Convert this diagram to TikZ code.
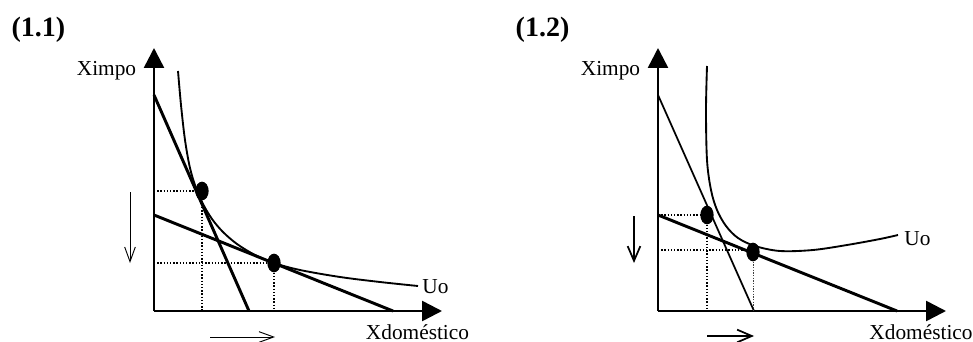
\documentclass[tikz,border=0pt]{standalone}
\usepackage{fontspec}
\setmainfont{Liberation Serif}
\usetikzlibrary{arrows.meta,shapes.geometric}
\tikzset{
  axisline/.style={line width=1.9pt, -{Triangle[width=15pt,length=15pt]}},
  budgetthick/.style={line width=2.2pt},
  budgetthin/.style={line width=1.3pt},
  indiff/.style={line width=1.4pt},
  guide/.style={line width=1pt, dash pattern=on 1.1pt off 1.3pt},
  guidelight/.style={line width=0.6pt, dash pattern=on 1pt off 1pt, black!75},
  optpt/.style={ellipse, fill=black, inner sep=0pt, minimum width=10pt, minimum height=14pt},
  shiftthin/.style={line width=0.7pt, -{Straight Barb[length=11pt,width=8pt]}},
  shiftthick/.style={line width=1.3pt, -{Straight Barb[length=11pt,width=9.5pt]}},
  lbl/.style={font=\fontsize{16}{18}\selectfont, inner sep=0pt, anchor=base},
  paneltitle/.style={font=\bfseries\fontsize{21}{24}\selectfont, inner sep=0pt},
}
\begin{document}
\begin{tikzpicture}[x=0.75pt,y=-0.75pt]
\useasboundingbox (0,0) rectangle (973,342);

% ---------------- Panel 1.1 ----------------
\node[paneltitle] (t1) at (38.5,29.5) {(1.1)};
\coordinate (O1) at (154,311);
\coordinate (Y1) at (154,48);
\coordinate (X1) at (442,311);
\draw[axisline] (O1) -- (Y1);
\draw[axisline] (O1) -- (X1);
\node[lbl] (ylab1) at (106.5,76) {Ximpo};
\node[lbl] (xlab1) at (417.5,339) {Xdoméstico};
\node[lbl] (u1) at (435.5,293) {Uo};

\coordinate (s1a) at (154,95);
\coordinate (s1b) at (249,311);
\coordinate (f1a) at (154,215);
\coordinate (f1b) at (393,311);
\draw[budgetthick] (s1a) -- (s1b);
\draw[budgetthick] (f1a) -- (f1b);

\draw[indiff] plot[smooth, tension=0.55] coordinates {
  (178,71) (181,105) (185,140) (190,168) (196,188) (203,204) (212,219)
  (223,232) (237,244) (255,255) (274,263) (300,270) (340,277) (380,282) (418,286)};

\node[optpt] (d11) at (202,191) {};
\node[optpt] (d12) at (274,263) {};
\draw[guide] (d11.center -| O1) -- (d11.west);
\draw[guide] (d11.south) -- (d11.center |- O1);
\draw[guide] (d12.center -| O1) -- (d12.west);
\draw[guide] (d12.south) -- (d12.center |- O1);

\coordinate (a1s) at (130,192);
\coordinate (a1e) at (130,263);
\draw[shiftthin] (a1s) -- (a1e);
\coordinate (b1s) at (210,337);
\coordinate (b1e) at (275,337);
\draw[shiftthin] (b1s) -- (b1e);

% ---------------- Panel 1.2 ----------------
\node[paneltitle] (t2) at (542.5,29.5) {(1.2)};
\coordinate (O2) at (658,311);
\coordinate (Y2) at (658,48);
\coordinate (X2) at (946,311);
\draw[axisline] (O2) -- (Y2);
\draw[axisline] (O2) -- (X2);
\node[lbl] (ylab2) at (610.5,76) {Ximpo};
\node[lbl] (xlab2) at (921,339) {Xdoméstico};
\node[lbl] (u2) at (917.5,245) {Uo};

\coordinate (s2a) at (658,95);
\coordinate (s2b) at (754,311);
\coordinate (f2a) at (658,215);
\coordinate (f2b) at (897,311);
\draw[budgetthin] (s2a) -- (s2b);
\draw[budgetthick] (f2a) -- (f2b);

\draw[indiff] plot[smooth, tension=0.55] coordinates {
  (707,66) (706,110) (707,160) (711,190) (717,210) (726,226) (738,238)
  (755,246) (780,251) (813,250) (847,245) (880,239) (898,235)};

\node[optpt] (d21) at (707,215) {};
\node[optpt] (d22) at (753,252) {};
\coordinate (g22a) at (658,250);
\coordinate (g22b) at (747,250);
\draw[guide] (d21.center -| O2) -- (d21.west);
\draw[guide] (d21.south) -- (d21.center |- O2);
\draw[guide] (g22a) -- (g22b);
\draw[guidelight] (d22.south) -- (d22.center |- O2);

\coordinate (a2s) at (634,216);
\coordinate (a2e) at (634,263);
\draw[shiftthick] (a2s) -- (a2e);
\coordinate (b2s) at (707,336);
\coordinate (b2e) at (754,336);
\draw[shiftthick] (b2s) -- (b2e);
\end{tikzpicture}
\end{document}
